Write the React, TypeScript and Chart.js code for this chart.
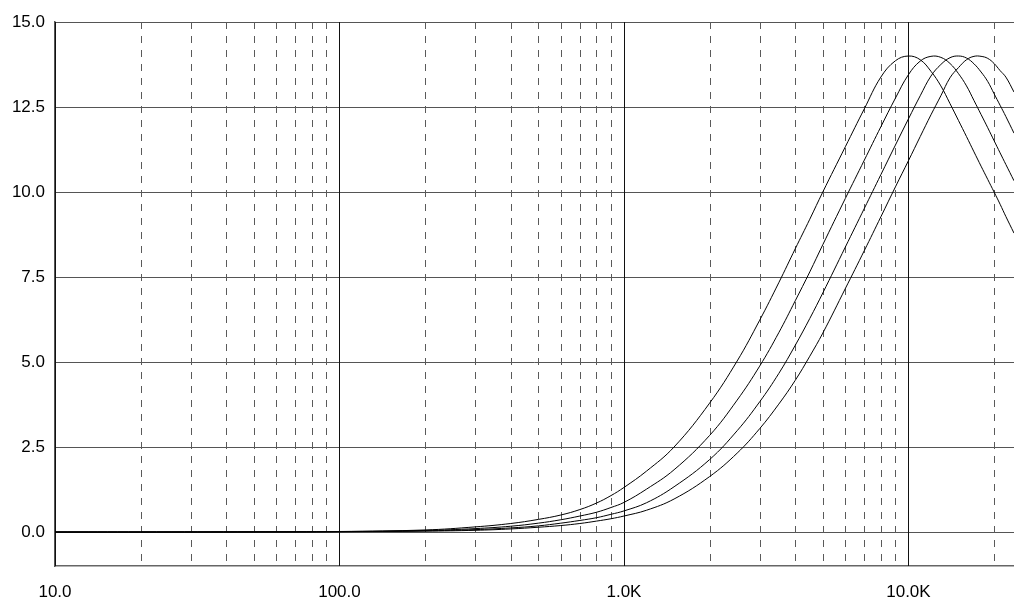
import React, { useEffect, useRef } from "react";
import { Chart, registerables } from "chart.js";

Chart.register(...registerables);

// Frequencies (Hz) shared by all four response curves
const freqs = [
  10, 20, 50, 100, 200, 300, 400, 500, 600, 700, 800, 900, 1000, 1200, 1500,
  2000, 2500, 3000, 3500, 4000, 4500, 5000, 6000, 7000, 8000, 9000, 10000,
  11000, 12000, 13000, 14000, 15000, 16000, 17000, 18000, 19000, 20000, 21000,
  22000, 23500,
];

const curve1 = [
  0, 0.001, 0.006, 0.015, 0.06, 0.15, 0.25, 0.37, 0.5, 0.66, 0.85, 1.07, 1.31,
  1.79, 2.5, 3.79, 5.03, 6.23, 7.33, 8.33, 9.2, 10.0, 11.33, 12.45, 13.38,
  13.86, 14.0, 13.89, 13.55, 13.12, 12.6, 12.1, 11.63, 11.18, 10.76, 10.37,
  10.0, 9.64, 9.28, 8.79,
];

const curve2 = [
  0, 0, 0.004, 0.012, 0.045, 0.1, 0.17, 0.26, 0.36, 0.47, 0.58, 0.72, 0.87,
  1.26, 1.83, 2.84, 3.88, 4.88, 5.86, 6.8, 7.65, 8.45, 9.81, 10.94, 11.92,
  12.76, 13.45, 13.85, 13.99, 13.96, 13.78, 13.48, 13.12, 12.69, 12.28, 11.89,
  11.51, 11.15, 10.81, 10.33,
];

const curve3 = [
  0, 0, 0.003, 0.01, 0.035, 0.07, 0.12, 0.18, 0.26, 0.34, 0.42, 0.52, 0.62,
  0.86, 1.33, 2.13, 2.98, 3.83, 4.66, 5.49, 6.28, 7.03, 8.38, 9.52, 10.51,
  11.38, 12.15, 12.83, 13.41, 13.75, 13.95, 14.0, 13.94, 13.77, 13.53, 13.25,
  12.89, 12.55, 12.22, 11.73,
];

const curve4 = [
  0, 0, 0.002, 0.008, 0.025, 0.05, 0.09, 0.14, 0.19, 0.25, 0.32, 0.39, 0.47,
  0.64, 0.97, 1.63, 2.32, 3.04, 3.76, 4.46, 5.17, 5.85, 7.16, 8.28, 9.27,
  10.15, 10.92, 11.63, 12.27, 12.83, 13.36, 13.66, 13.89, 13.99, 13.99, 13.93,
  13.78, 13.57, 13.38, 12.94,
];

const seriesList = [curve1, curve2, curve3, curve4];

const xMin = 10;
const xMax = 23500;
const yMin = -1;
const yMax = 15;

const xTickValues = [10, 100, 1000, 10000];
const xTickLabels = ["10.0", "100.0", "1.0K", "10.0K"];
const yTickValues = [0, 2.5, 5, 7.5, 10, 12.5, 15];
const yTickLabels = ["0.0", "2.5", "5.0", "7.5", "10.0", "12.5", "15.0"];

const majorGrid = [10, 100, 1000, 10000];
const minorGrid = [
  20, 30, 40, 50, 60, 70, 80, 90, 200, 300, 400, 500, 600, 700, 800, 900, 2000,
  3000, 4000, 5000, 6000, 7000, 8000, 9000, 20000,
];

const FONT = "'Liberation Sans', Arial, Helvetica, sans-serif";

const logGridPlugin = {
  id: "logGrid",
  beforeDatasetsDraw(chart: any) {
    const { ctx, chartArea, scales } = chart;
    const xs = scales.x;
    ctx.save();
    ctx.lineWidth = 1;
    ctx.strokeStyle = "#5a5a5a";
    ctx.setLineDash([7, 7]);
    minorGrid.forEach((v) => {
      const px = Math.round(xs.getPixelForValue(v)) + 0.5;
      ctx.beginPath();
      ctx.moveTo(px, chartArea.top);
      ctx.lineTo(px, chartArea.bottom);
      ctx.stroke();
    });
    ctx.setLineDash([]);
    ctx.strokeStyle = "#111";
    majorGrid.forEach((v) => {
      const px = Math.round(xs.getPixelForValue(v)) + 0.5;
      ctx.beginPath();
      ctx.moveTo(px, chartArea.top);
      ctx.lineTo(px, chartArea.bottom);
      ctx.stroke();
    });
    ctx.restore();
  },
};

export default function App() {
  const canvasRef = useRef<HTMLCanvasElement | null>(null);

  useEffect(() => {
    const canvas = canvasRef.current;
    if (!canvas) return;
    const chart = new Chart(canvas, {
      type: "line",
      data: {
        labels: freqs,
        datasets: seriesList.map((vals) => ({
          data: freqs.map((f, i) => ({ x: f, y: vals[i] })),
          borderColor: "#000",
          borderWidth: 1,
          pointRadius: 0,
          fill: false,
          tension: 0.4,
        })),
      },
      options: {
        animation: false,
        responsive: false,
        devicePixelRatio: 1,
        layout: { padding: { top: 22, right: 0, bottom: 0, left: 0 } },
        plugins: {
          legend: { display: false },
          tooltip: { enabled: false },
        },
        scales: {
          x: {
            type: "logarithmic",
            min: xMin,
            max: xMax,
            afterBuildTicks: (scale: any) => {
              scale.ticks = xTickValues.map((v) => ({ value: v }));
            },
            afterFit: (scale: any) => {
              scale.height = 34;
            },
            grid: { display: false, drawTicks: false },
            border: { display: true, color: "#666", width: 1.5 },
            ticks: {
              autoSkip: false,
              maxRotation: 0,
              padding: 16,
              color: "#000",
              font: { family: FONT, size: 17 },
              callback: (value: any) => {
                const idx = xTickValues.indexOf(Number(value));
                return idx >= 0 ? xTickLabels[idx] : "";
              },
            },
          },
          y: {
            type: "linear",
            min: yMin,
            max: yMax,
            afterBuildTicks: (scale: any) => {
              scale.ticks = yTickValues.map((v) => ({ value: v }));
            },
            afterFit: (scale: any) => {
              scale.width = 55;
            },
            grid: { color: "#555", lineWidth: 1, drawTicks: false },
            border: { display: true, color: "#555", width: 1.5 },
            ticks: {
              autoSkip: false,
              padding: 10,
              color: "#000",
              font: { family: FONT, size: 17 },
              callback: (value: any) => {
                const idx = yTickValues.indexOf(Number(value));
                return idx >= 0 ? yTickLabels[idx] : "";
              },
            },
          },
        },
      },
      plugins: [logGridPlugin],
    });
    return () => chart.destroy();
  }, []);

  return (
    <div
      style={{
        position: "fixed",
        left: 0,
        top: 0,
        width: 1014,
        height: 600,
        background: "#fff",
      }}
    >
      <canvas ref={canvasRef} width={1014} height={600} />
    </div>
  );
}
